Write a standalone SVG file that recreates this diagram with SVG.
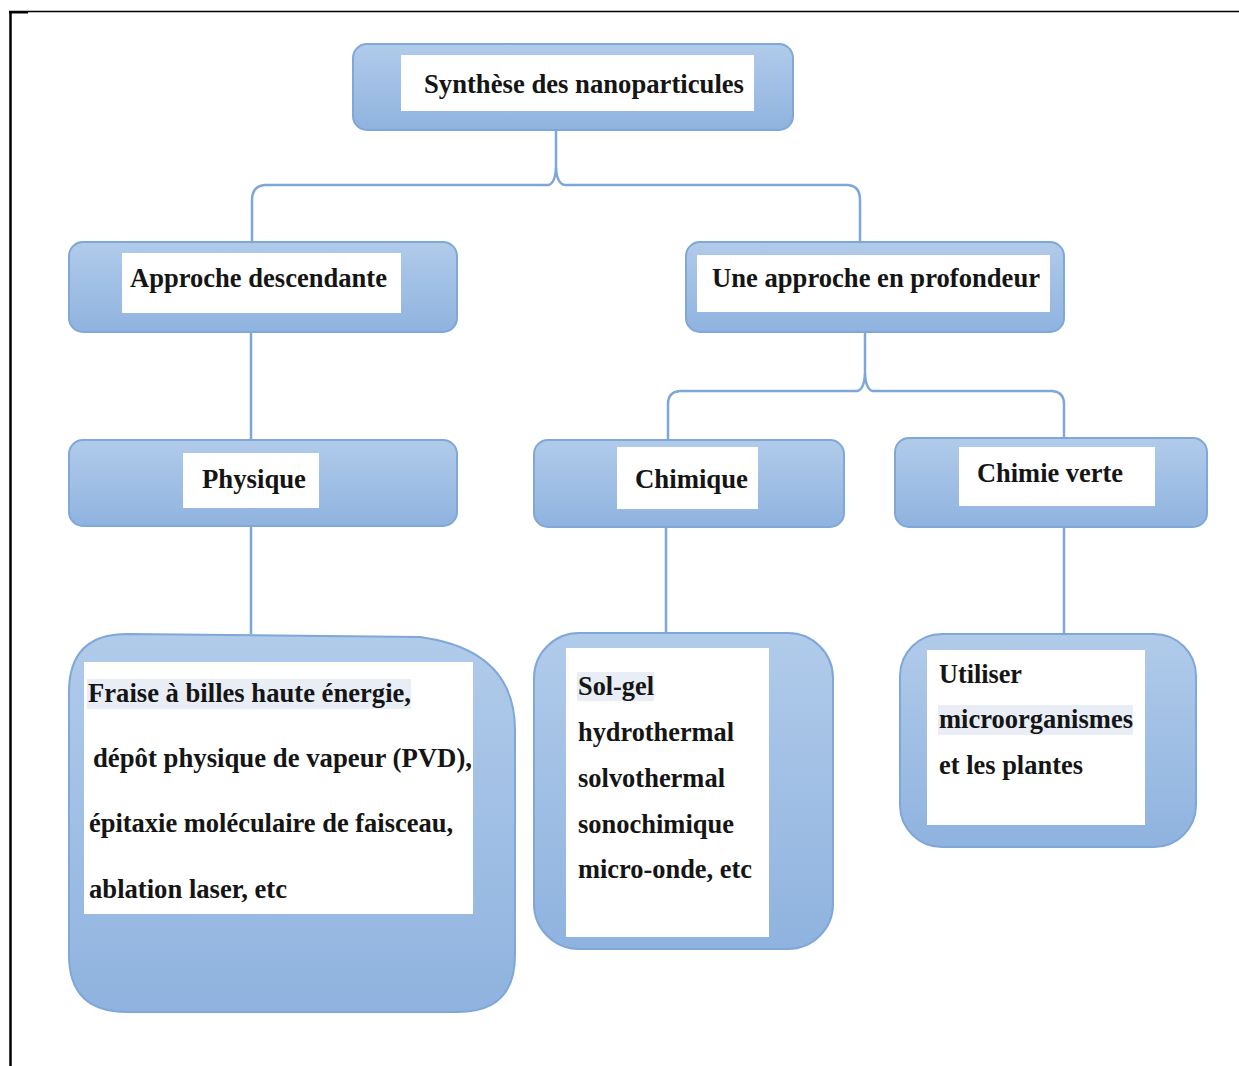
<svg xmlns="http://www.w3.org/2000/svg" width="1239" height="1066" viewBox="0 0 1239 1066">
<defs>
<linearGradient id="g" x1="0" y1="0" x2="0" y2="1">
<stop offset="0" stop-color="#b1cbea"/>
<stop offset="1" stop-color="#8fb3df"/>
</linearGradient>
</defs>
<style>
.box{fill:url(#g);stroke:#7fa7d8;stroke-width:2}
.in{fill:#ffffff}
.hl{fill:#e8edf6}
.t{font-family:"Liberation Serif","Times New Roman",serif;font-weight:bold;font-size:28px;fill:#151515}
.c{fill:none;stroke:#7ca7d8;stroke-width:2.5}
.f{stroke:#000;fill:none}
</style>
<rect width="1239" height="1066" fill="#ffffff"/>
<g id="frame">
<line class="f" x1="9" y1="11.5" x2="1239" y2="11.5" stroke-width="1.5"/>
<line class="f" x1="10.5" y1="11" x2="10.5" y2="1066" stroke-width="2.5"/>
<line class="f" x1="9" y1="12.5" x2="28" y2="12.5" stroke-width="2"/>
</g>
<g id="connectors">
<path class="c" d="M252 242 L252 200 Q252 186 265 185 L548 185 Q555 184 556 168 L556 130"/>
<path class="c" d="M556 168 Q557 184 565 185 L848 185 Q860 186 860 200 L860 242"/>
<path class="c" d="M668 440 L668 404 Q668 392 680 391 L857 391 Q864 390 865 374 L865 332"/>
<path class="c" d="M865 374 Q866 390 873 391 L1052 391 Q1064 392 1064 404 L1064 438"/>
<line class="c" x1="251" y1="332" x2="251" y2="440"/>
<line class="c" x1="251" y1="526" x2="251" y2="634"/>
<line class="c" x1="666" y1="528" x2="666" y2="633"/>
<line class="c" x1="1064" y1="528" x2="1064" y2="634"/>
</g>
<g id="root">
<rect class="box" x="353" y="44" width="440" height="86" rx="14"/>
<rect class="in" x="401" y="55" width="353" height="56"/>
<text class="t" x="424" y="93" textLength="320" lengthAdjust="spacingAndGlyphs">Synthèse des nanoparticules</text>
</g>
<g id="approche-descendante">
<rect class="box" x="69" y="242" width="388" height="90" rx="14"/>
<rect class="in" x="122" y="253" width="279" height="60"/>
<text class="t" x="130" y="287" textLength="257" lengthAdjust="spacingAndGlyphs">Approche descendante</text>
</g>
<g id="approche-profondeur">
<rect class="box" x="686" y="242" width="378" height="90" rx="14"/>
<rect class="in" x="697" y="255" width="353" height="57"/>
<text class="t" x="712" y="287" textLength="328" lengthAdjust="spacingAndGlyphs">Une approche en profondeur</text>
</g>
<g id="physique">
<rect class="box" x="69" y="440" width="388" height="86" rx="14"/>
<rect class="in" x="183" y="453" width="136" height="55"/>
<text class="t" x="202" y="488" textLength="104" lengthAdjust="spacingAndGlyphs">Physique</text>
</g>
<g id="chimique">
<rect class="box" x="534" y="440" width="310" height="87" rx="14"/>
<rect class="in" x="617" y="447" width="141" height="62"/>
<text class="t" x="635" y="488" textLength="113" lengthAdjust="spacingAndGlyphs">Chimique</text>
</g>
<g id="chimie-verte">
<rect class="box" x="895" y="438" width="312" height="89" rx="14"/>
<rect class="in" x="959" y="447" width="196" height="59"/>
<text class="t" x="977" y="482" textLength="146" lengthAdjust="spacingAndGlyphs">Chimie verte</text>
</g>
<g id="physique-methodes">
<path class="box" d="M127 634 L420 637 Q515 650 515 730 L515 955 Q515 1012 458 1012 L127 1012 Q69 1012 69 955 L69 692 Q69 634 127 634 Z"/>
<rect class="in" x="84" y="662" width="389" height="252"/>
<rect class="hl" x="87" y="679" width="324" height="30"/>
<text class="t" x="88" y="702" textLength="323" lengthAdjust="spacingAndGlyphs">Fraise à billes haute énergie,</text>
<text class="t" x="93" y="767" textLength="379" lengthAdjust="spacingAndGlyphs">dépôt physique de vapeur (PVD),</text>
<text class="t" x="89" y="832" textLength="364" lengthAdjust="spacingAndGlyphs">épitaxie moléculaire de faisceau,</text>
<text class="t" x="89" y="898" textLength="198" lengthAdjust="spacingAndGlyphs">ablation laser, etc</text>
</g>
<g id="chimique-methodes">
<rect class="box" x="534" y="633" width="299" height="316" rx="45"/>
<rect class="in" x="566" y="648" width="203" height="289"/>
<rect class="hl" x="577" y="672" width="77" height="29"/>
<text class="t" x="578" y="695" textLength="76" lengthAdjust="spacingAndGlyphs">Sol-gel</text>
<text class="t" x="578" y="741" textLength="156" lengthAdjust="spacingAndGlyphs">hydrothermal</text>
<text class="t" x="578" y="787" textLength="147" lengthAdjust="spacingAndGlyphs">solvothermal</text>
<text class="t" x="578" y="833" textLength="156" lengthAdjust="spacingAndGlyphs">sonochimique</text>
<text class="t" x="578" y="878" textLength="174" lengthAdjust="spacingAndGlyphs">micro-onde, etc</text>
</g>
<g id="chimie-verte-methodes">
<rect class="box" x="900" y="634" width="296" height="213" rx="42"/>
<rect class="in" x="927" y="650" width="218" height="175"/>
<rect class="hl" x="938" y="705" width="195" height="30"/>
<text class="t" x="939" y="683" textLength="83" lengthAdjust="spacingAndGlyphs">Utiliser</text>
<text class="t" x="939" y="728" textLength="194" lengthAdjust="spacingAndGlyphs">microorganismes</text>
<text class="t" x="939" y="774" textLength="144" lengthAdjust="spacingAndGlyphs">et les plantes</text>
</g>
</svg>
